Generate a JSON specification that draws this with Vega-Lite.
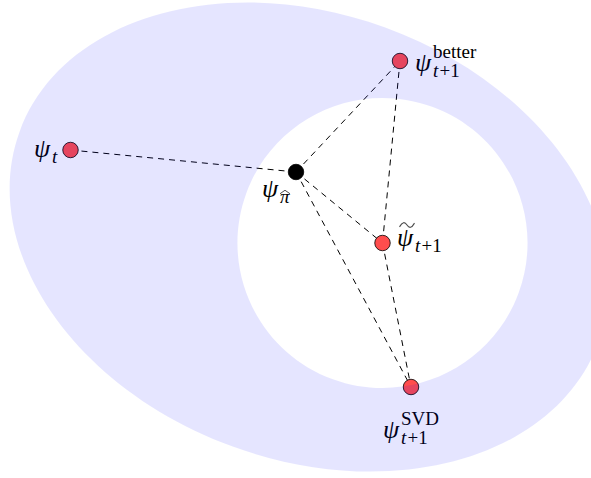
{
  "$schema": "https://vega.github.io/schema/vega-lite/v6.json",
  "width": 591,
  "height": 478,
  "padding": 0,
  "autosize": {"type": "none"},
  "background": "white",
  "config": {"view": {"stroke": null}},
  "datasets": {
    "region": [{"name": "trust ring", "cx": 309, "cy": 237}],
    "points": [
      {"name": "psi_t", "kind": "iterate", "x": 70.5, "y": 150},
      {"name": "psi_pihat", "kind": "projection", "x": 296, "y": 172},
      {"name": "psi_better", "kind": "iterate", "x": 400, "y": 61},
      {"name": "psi_tilde", "kind": "iterate", "x": 382.5, "y": 243},
      {"name": "psi_svd", "kind": "iterate", "x": 411, "y": 387}
    ],
    "edges": [
      {"from": "psi_t", "to": "psi_pihat", "x": 70.5, "y": 150, "x2": 296, "y2": 172},
      {"from": "psi_pihat", "to": "psi_better", "x": 296, "y": 172, "x2": 400, "y2": 61},
      {"from": "psi_pihat", "to": "psi_tilde", "x": 296, "y": 172, "x2": 382.5, "y2": 243},
      {"from": "psi_pihat", "to": "psi_svd", "x": 296, "y": 172, "x2": 411, "y2": 387},
      {"from": "psi_better", "to": "psi_tilde", "x": 400, "y": 61, "x2": 382.5, "y2": 243},
      {"from": "psi_tilde", "to": "psi_svd", "x": 382.5, "y": 243, "x2": 411, "y2": 387}
    ],
    "labels": [
      {"name": "psi_t", "main": "ψ", "sub": "t", "rest": "", "sup": "", "accent": "none", "x": 34, "y": 157},
      {"name": "psi_pihat", "main": "ψ", "sub": "π", "rest": "", "sup": "", "accent": "hat", "x": 262, "y": 197},
      {"name": "psi_better", "main": "ψ", "sub": "t", "rest": "+1", "sup": "better", "accent": "none", "x": 415, "y": 71},
      {"name": "psi_tilde", "main": "ψ", "sub": "t", "rest": "+1", "sup": "", "accent": "tilde", "x": 397, "y": 246},
      {"name": "psi_svd", "main": "ψ", "sub": "t", "rest": "+1", "sup": "SVD", "accent": "none", "x": 383, "y": 438}
    ]
  },
  "layer": [
    {
      "data": {"name": "edges"},
      "mark": {"type": "rule", "color": "black", "strokeWidth": 1, "strokeDash": [6, 5]},
      "encoding": {
        "x": {"field": "x", "type": "quantitative", "scale": {"domain": [0, 591], "nice": false, "zero": false}, "axis": null},
        "y": {"field": "y", "type": "quantitative", "scale": {"domain": [0, 478], "nice": false, "zero": false, "reverse": true}, "axis": null},
        "x2": {"field": "x2"},
        "y2": {"field": "y2"}
      }
    },
    {
      "data": {"name": "points"},
      "mark": {"type": "point", "shape": "circle", "filled": true, "size": 240, "stroke": "black", "strokeWidth": 0.8, "opacity": 1},
      "encoding": {
        "x": {"field": "x", "type": "quantitative"},
        "y": {"field": "y", "type": "quantitative"},
        "fill": {"field": "kind", "type": "nominal", "scale": {"domain": ["iterate", "projection"], "range": ["#ff4d4d", "#000000"]}, "legend": null}
      }
    },
    {
      "data": {"name": "labels"},
      "mark": {"type": "text", "font": "Liberation Serif", "fontStyle": "italic", "fontSize": 26, "align": "left", "baseline": "alphabetic", "color": "black"},
      "encoding": {
        "x": {"field": "x", "type": "quantitative"},
        "y": {"field": "y", "type": "quantitative"},
        "text": {"field": "main"}
      }
    },
    {
      "data": {"name": "labels"},
      "mark": {"type": "text", "font": "Liberation Serif", "fontStyle": "italic", "fontSize": 19, "align": "left", "baseline": "alphabetic", "dx": 18, "dy": 6, "color": "black"},
      "encoding": {
        "x": {"field": "x", "type": "quantitative"},
        "y": {"field": "y", "type": "quantitative"},
        "text": {"field": "sub"}
      }
    },
    {
      "data": {"name": "labels"},
      "mark": {"type": "text", "font": "Liberation Serif", "fontSize": 19, "align": "left", "baseline": "alphabetic", "dx": 24.5, "dy": 6, "color": "black"},
      "encoding": {
        "x": {"field": "x", "type": "quantitative"},
        "y": {"field": "y", "type": "quantitative"},
        "text": {"field": "rest"}
      }
    },
    {
      "data": {"name": "labels"},
      "mark": {"type": "text", "font": "Liberation Serif", "fontSize": 19, "align": "left", "baseline": "alphabetic", "dx": 18, "dy": -13, "color": "black"},
      "encoding": {
        "x": {"field": "x", "type": "quantitative"},
        "y": {"field": "y", "type": "quantitative"},
        "text": {"field": "sup"}
      }
    },
    {
      "data": {"name": "labels"},
      "transform": [{"filter": "datum.accent === 'tilde'"}],
      "mark": {"type": "point", "filled": false, "stroke": "black", "strokeWidth": 1.1, "size": 225, "xOffset": 10, "yOffset": -21, "shape": "M-1,0.25C-0.6,-0.45,-0.3,-0.45,0,0C0.3,0.45,0.6,0.45,1,-0.25"},
      "encoding": {
        "x": {"field": "x", "type": "quantitative"},
        "y": {"field": "y", "type": "quantitative"}
      }
    },
    {
      "data": {"name": "labels"},
      "transform": [{"filter": "datum.accent === 'hat'"}],
      "mark": {"type": "point", "filled": false, "stroke": "black", "strokeWidth": 1, "size": 100, "xOffset": 23, "yOffset": -5, "shape": "M-1,0.35L0,-0.35L1,0.35"},
      "encoding": {
        "x": {"field": "x", "type": "quantitative"},
        "y": {"field": "y", "type": "quantitative"}
      }
    },
    {
      "data": {"name": "region"},
      "mark": {
        "type": "point",
        "filled": true,
        "fill": "#0000ff",
        "fillOpacity": 0.1,
        "strokeWidth": 0,
        "size": 379456,
        "angle": 20,
        "shape": "M-1,0C-1,-0.3999,-0.5523,-0.724,0,-0.724C0.5523,-0.724,1,-0.3999,1,0C1,0.3999,0.5523,0.724,0,0.724C-0.5523,0.724,-1,0.3999,-1,0ZM0.7017,-0.0633C0.7017,-0.3233,0.4909,-0.5341,0.2309,-0.5341C-0.0291,-0.5341,-0.2399,-0.3233,-0.2399,-0.0633C-0.2399,0.1967,-0.0291,0.4075,0.2309,0.4075C0.4909,0.4075,0.7017,0.1967,0.7017,-0.0633Z"
      },
      "encoding": {
        "x": {"field": "cx", "type": "quantitative"},
        "y": {"field": "cy", "type": "quantitative"}
      }
    }
  ]
}
